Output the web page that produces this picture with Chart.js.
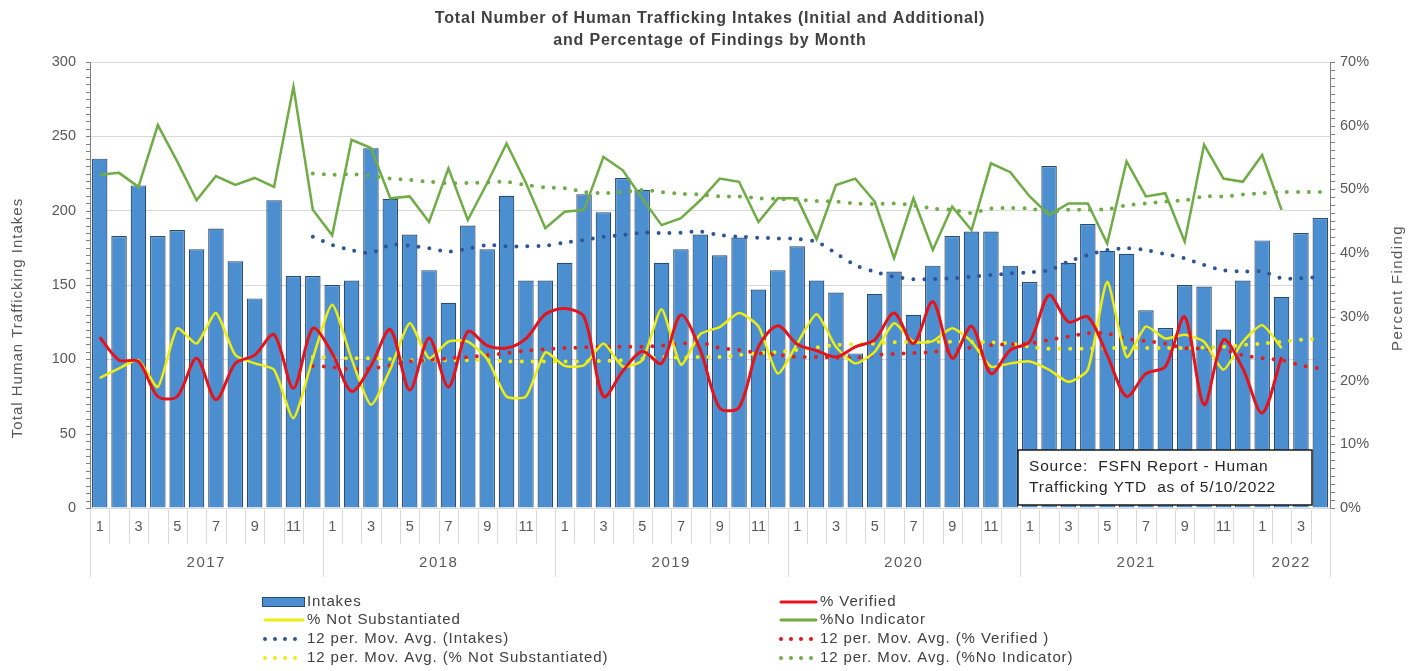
<!DOCTYPE html>
<html>
<head>
<meta charset="utf-8">
<title>Human Trafficking Intakes by Month</title>
<script src="https://cdn.jsdelivr.net/npm/chart.js@4.4.1/dist/chart.umd.min.js"></script>
<style>
  html, body { margin: 0; padding: 0; background: #fff; }
  #wrap { width: 1419px; height: 671px; }
</style>
</head>
<body>
<div id="wrap"><canvas id="htChart" width="1419" height="671"></canvas></div>
<script>
// Month axis, grouped by year
const years = ["2017", "2018", "2019", "2020", "2021", "2022"];
const monthsInYear = [12, 12, 12, 12, 12, 4];

// Total intakes per month (left axis)
const intakes = [
  235, 183, 217, 183, 187, 174, 188, 166, 141, 207, 156, 156,
  150, 153, 242, 208, 184, 160, 138, 190, 174, 210, 153, 153,
  165, 211, 199, 222, 214, 165, 174, 184, 170, 182, 147, 160,
  176, 153, 145, 104, 144, 159, 130, 163, 183, 186, 186, 163,
  152, 230, 165, 191, 173, 171, 133, 121, 150, 149, 120, 153,
  180, 142, 185, 195
];

// Findings in percent (right axis), reported through Feb 2022
const pctVerified = [
  26.8, 23.2, 23.0, 17.5, 17.5, 23.5, 17.0, 22.7, 24.0, 27.2, 18.8, 28.2,
  24.3, 18.3, 22.3, 28.0, 18.5, 26.7, 19.0, 27.7, 25.5, 25.1, 26.6, 30.4,
  31.3, 30.0, 17.5, 21.5, 24.6, 22.7, 30.3, 24.8, 15.7, 15.8, 25.3, 28.6,
  25.7, 24.7, 23.7, 25.3, 26.4, 30.6, 25.8, 32.4, 23.5, 28.5, 21.1, 24.8,
  26.1, 33.4, 29.2, 30.0, 24.0, 17.5, 21.1, 22.2, 30.0, 16.2, 26.4, 21.9,
  14.9, 23.7
];
const pctNotSubstantiated = [
  20.4, 21.9, 23.2, 19.0, 28.2, 25.8, 30.6, 24.0, 22.7, 21.7, 14.1, 23.5,
  31.9, 23.4, 16.2, 21.8, 29.0, 23.5, 26.1, 26.1, 23.4, 17.5, 17.5, 24.4,
  22.3, 22.4, 25.8, 22.2, 23.2, 31.2, 22.5, 27.3, 28.4, 30.6, 28.5, 21.1,
  25.8, 30.4, 25.3, 22.7, 24.5, 29.0, 26.1, 26.2, 28.2, 26.1, 22.2, 22.7,
  23.0, 21.7, 19.8, 21.7, 35.5, 23.7, 28.5, 26.6, 27.2, 26.1, 21.7, 26.1,
  28.7, 25.1
];
const pctNoIndicator = [
  52.3, 52.6, 50.4, 60.1, 54.4, 48.3, 52.1, 50.7, 51.8, 50.4, 66.1, 46.8,
  42.8, 57.8, 56.5, 48.6, 48.9, 44.9, 53.3, 45.2, 51.0, 57.2, 51.0, 43.9,
  46.5, 46.8, 55.1, 53.0, 48.6, 44.4, 45.5, 48.3, 51.7, 51.2, 44.9, 48.6,
  48.6, 42.2, 50.7, 51.7, 48.1, 39.2, 48.6, 40.5, 47.3, 43.6, 54.1, 52.7,
  48.9, 46.0, 47.8, 47.8, 41.5, 54.4, 48.9, 49.4, 41.8, 57.0, 51.7, 51.2,
  55.4, 46.8
];

// 12 period moving averages, first point at Dec 2017
const maIntakes = [
  182.5,
  177.0, 173.5, 171.6, 176.9, 176.5, 174.7, 172.4, 174.5, 176.9, 176.0, 176.0, 176.5,
  178.5, 180.3, 182.5, 183.6, 185.2, 185.0, 185.2, 185.9, 183.6, 182.5, 181.8, 181.3,
  181.0, 179.0, 171.3, 163.4, 159.0, 155.6, 153.8, 154.0, 154.5, 155.6, 156.7, 157.8,
  158.5, 160.0, 165.7, 170.2, 173.5, 174.7, 173.5, 170.8, 168.0, 163.4, 160.0, 159.0,
  159.0, 154.5, 154.5, 155.6
];
const maVerified = [
  22.3,
  22.1, 21.8, 21.9, 22.4, 23.0, 23.2, 23.5, 23.7, 24.0, 24.3, 24.7, 24.9,
  25.1, 25.2, 25.3, 25.3, 25.3, 25.5, 25.8, 26.0, 25.1, 24.8, 24.3, 24.0,
  23.7, 23.7, 23.6, 23.6, 24.0, 24.2, 24.3, 24.5, 24.8, 25.2, 25.6, 25.7,
  25.8, 26.4, 26.9, 27.4, 27.4, 26.6, 26.2, 25.8, 25.1, 25.0, 24.8, 24.0,
  23.5, 23.2, 22.4, 21.9
];
const maNotSubstantiated = [
  23.7,
  23.6, 23.5, 23.5, 23.4, 23.2, 23.2, 23.2, 23.2, 23.2, 23.0, 23.0, 23.0,
  23.0, 23.0, 23.1, 23.2, 23.4, 23.7, 23.6, 23.7, 23.7, 24.0, 24.3, 24.5,
  24.8, 25.2, 25.6, 25.7, 25.8, 26.0, 26.1, 26.1, 26.1, 26.1, 26.0, 25.8,
  25.3, 25.0, 25.0, 25.0, 25.1, 25.1, 25.1, 25.1, 25.1, 25.2, 25.3, 25.6,
  25.8, 26.1, 26.4, 26.6
];
const maNoIndicator = [
  52.5,
  52.3, 52.4, 52.1, 51.7, 51.5, 51.2, 51.0, 51.0, 51.1, 51.2, 50.7, 50.3,
  50.2, 49.6, 49.4, 49.6, 49.9, 49.6, 49.3, 49.2, 48.9, 48.9, 48.6, 48.5,
  48.4, 48.2, 48.1, 47.8, 47.7, 47.8, 47.5, 47.0, 46.8, 46.3, 47.0, 47.1,
  47.0, 46.5, 46.8, 46.8, 46.9, 47.5, 47.8, 48.1, 48.3, 48.9, 48.9, 49.2,
  49.4, 49.6, 49.6, 49.6
];

// Axis ticks
const intakeTicks = [0, 50, 100, 150, 200, 250, 300];
const percentTicks = [0, 10, 20, 30, 40, 50, 60, 70];

const FONT = "'Liberation Sans', Arial, sans-serif";
const TEXT = "#595959";

// category keys like "2017-1"
const categories = [];
years.forEach((yr, k) => {
  for (let m = 1; m <= monthsInYear[k]; m++) categories.push(yr + "-" + m);
});
const maLead = Array(11).fill(null);

const BLUE = "#4b8fd1", RED = "#e3141b", YELLOW = "#eded12", GREEN = "#6fac45", NAVY = "#2f5597";

function dotted(label, data, color, axis) {
  return {
    type: "line", label, data: maLead.concat(data), yAxisID: axis,
    borderColor: color, borderWidth: 4, borderDash: [0, 11], borderCapStyle: "round",
    pointRadius: 0, fill: false, tension: 0.3, order: 2
  };
}

// Legend rows: [text, kind, color, column, row]
const legendItems = [
  ["Intakes", "bar", BLUE, 0, 0],
  ["% Not Substantiated", "line", YELLOW, 0, 1],
  ["12 per. Mov. Avg. (Intakes)", "dots", NAVY, 0, 2],
  ["12 per. Mov. Avg. (% Not Substantiated)", "dots", YELLOW, 0, 3],
  ["% Verified", "line", RED, 1, 0],
  ["%No Indicator", "line", GREEN, 1, 1],
  ["12 per. Mov. Avg. (% Verified )", "dots", RED, 1, 2],
  ["12 per. Mov. Avg. (%No Indicator)", "dots", GREEN, 1, 3]
];

const decorations = {
  id: "decorations",
  beforeDraw(chart) {
    const ctx = chart.ctx;
    ctx.save();
    ctx.fillStyle = "#fff";
    ctx.fillRect(0, 0, chart.width, chart.height);
    ctx.restore();
  },
  afterDatasetsDraw(chart) {
    // source note box in lower right of the plot
    const ctx = chart.ctx, a = chart.chartArea;
    const w = 294, h = 55, x = a.right - 18 - w, y = a.bottom - 3 - h;
    ctx.save();
    ctx.fillStyle = "#fff";
    ctx.fillRect(x, y, w, h);
    ctx.strokeStyle = "#1a1a1a";
    ctx.lineWidth = 1.5;
    ctx.strokeRect(x, y, w, h);
    ctx.fillStyle = "#262626";
    ctx.font = "15.5px " + FONT;
    ctx.letterSpacing = "0.8px";
    ctx.textBaseline = "middle";
    ctx.fillText("Source:  FSFN Report - Human", x + 11, y + 17);
    ctx.fillText("Trafficking YTD  as of 5/10/2022", x + 11, y + 38);
    ctx.restore();
  },
  afterDraw(chart) {
    const ctx = chart.ctx, a = chart.chartArea;
    const xs = chart.scales.x, yL = chart.scales.y, yR = chart.scales.y1;
    ctx.save();

    // title
    ctx.fillStyle = "#404040";
    ctx.font = "bold 16px " + FONT;
    ctx.letterSpacing = "0.8px";
    ctx.textAlign = "center";
    ctx.textBaseline = "middle";
    const mid = (a.left + a.right) / 2;
    ctx.fillText("Total Number of Human Trafficking Intakes (Initial and Additional)", mid, 19);
    ctx.fillText("and Percentage of Findings by Month", mid, 41);

    // axis titles
    ctx.fillStyle = TEXT;
    ctx.font = "15px " + FONT;
    ctx.letterSpacing = "1px";
    ctx.save();
    ctx.translate(18, 318);
    ctx.rotate(-Math.PI / 2);
    ctx.fillText("Total Human Trafficking Intakes", 0, 0);
    ctx.restore();
    ctx.save();
    ctx.letterSpacing = "1.4px";
    ctx.translate(1398, 288);
    ctx.rotate(-Math.PI / 2);
    ctx.fillText("Percent Finding", 0, 0);
    ctx.restore();

    // minor tick marks on both value axes
    ctx.strokeStyle = "#7f7f7f";
    ctx.lineWidth = 1;
    ctx.beginPath();
    for (let v = yL.min; v <= yL.max; v += 5) {
      const py = Math.round(yL.getPixelForValue(v)) + 0.5;
      ctx.moveTo(a.left - 4, py); ctx.lineTo(a.left, py);
    }
    for (let v = yR.min; v <= yR.max + 0.01; v += 1.25) {
      const py = Math.round(yR.getPixelForValue(v)) + 0.5;
      ctx.moveTo(a.right, py); ctx.lineTo(a.right + 5, py);
    }
    ctx.stroke();

    // category separators and year labels
    const step = xs.getPixelForValue(1) - xs.getPixelForValue(0);
    const edge = k => xs.getPixelForValue(Math.min(k, categories.length - 1)) + (k < categories.length ? -step / 2 : step / 2);
    const yearStarts = [0];
    monthsInYear.forEach((n, k) => yearStarts.push(yearStarts[k] + n));
    ctx.strokeStyle = "#d9d9d9";
    ctx.beginPath();
    for (let k = 0; k <= categories.length; k++) {
      const px = Math.round(edge(k)) + 0.5;
      const long = yearStarts.includes(k);
      ctx.moveTo(px, a.bottom + 2);
      ctx.lineTo(px, a.bottom + (long ? 69 : 36));
    }
    ctx.stroke();
    ctx.fillStyle = TEXT;
    ctx.font = "15px " + FONT;
    ctx.letterSpacing = "1.5px";
    years.forEach((yr, k) => {
      const cx = (edge(yearStarts[k]) + edge(yearStarts[k + 1])) / 2;
      ctx.fillText(yr, cx, a.bottom + 55);
    });

    // legend, two columns
    const colX = [262, 778], rowY = [602, 620, 639, 658];
    ctx.textAlign = "left";
    ctx.font = "15px " + FONT;
    ctx.letterSpacing = "0.9px";
    legendItems.forEach(([text, kind, color, col, row]) => {
      const x0 = colX[col], yy = rowY[row];
      const x1 = x0 + (col ? 40 : 43);
      if (kind === "bar") {
        ctx.fillStyle = color;
        ctx.fillRect(x0, yy - 5, x1 - x0, 10);
        ctx.strokeStyle = "#2a4a70";
        ctx.lineWidth = 1;
        ctx.strokeRect(x0 + 0.5, yy - 4.5, x1 - x0 - 1, 9);
      } else {
        ctx.strokeStyle = color;
        ctx.lineCap = "round";
        ctx.lineWidth = kind === "dots" ? 4 : 3;
        ctx.setLineDash(kind === "dots" ? [0, 10] : []);
        ctx.beginPath();
        ctx.moveTo(x0 + 3, yy); ctx.lineTo(x1 - 2, yy);
        ctx.stroke();
        ctx.setLineDash([]);
      }
      ctx.fillStyle = "#404040";
      ctx.fillText(text, x1 + 2, yy);
    });
    ctx.restore();
  }
};

new Chart(document.getElementById("htChart"), {
  data: {
    labels: categories,
    datasets: [
      { type: "line", label: "% Verified", data: pctVerified, yAxisID: "y1",
        borderColor: RED, borderWidth: 3, pointRadius: 0, tension: 0.3, order: 1 },
      { type: "line", label: "% Not Substantiated", data: pctNotSubstantiated, yAxisID: "y1",
        borderColor: YELLOW, borderWidth: 2.5, pointRadius: 0, tension: 0.2, order: 1 },
      { type: "line", label: "%No Indicator", data: pctNoIndicator, yAxisID: "y1",
        borderColor: GREEN, borderWidth: 2.5, pointRadius: 0, tension: 0, order: 1 },
      dotted("12 per. Mov. Avg. (Intakes)", maIntakes, NAVY, "y"),
      dotted("12 per. Mov. Avg. (% Verified )", maVerified, "#e0201e", "y1"),
      dotted("12 per. Mov. Avg. (% Not Substantiated)", maNotSubstantiated, YELLOW, "y1"),
      dotted("12 per. Mov. Avg. (%No Indicator)", maNoIndicator, GREEN, "y1"),
      { type: "bar", label: "Intakes", data: intakes, yAxisID: "y",
        backgroundColor: BLUE, borderColor: "#2a4a70", borderWidth: 1.2,
        barPercentage: 0.8, categoryPercentage: 1, order: 9 }
    ]
  },
  options: {
    responsive: false,
    animation: false,
    layout: { padding: { top: 62, left: 0, right: 0, bottom: 0 } },
    plugins: { legend: { display: false }, tooltip: { enabled: false } },
    scales: {
      x: {
        offset: true,
        grid: { display: false, drawTicks: false },
        border: { display: true, color: "#d9d9d9" },
        ticks: {
          autoSkip: false, maxRotation: 0, padding: 10,
          color: TEXT, font: { family: FONT, size: 14.5 },
          callback(v) {
            const m = +categories[v].split("-")[1];
            return m % 2 === 1 ? String(m) : "";
          }
        },
        afterFit(scale) { scale.height = 163; }
      },
      y: {
        position: "left",
        min: intakeTicks[0], max: intakeTicks[intakeTicks.length - 1],
        grid: { color: "#d9d9d9", drawTicks: false },
        border: { display: true, color: "#7f7f7f" },
        ticks: { stepSize: intakeTicks[1] - intakeTicks[0], padding: 14,
          color: TEXT, font: { family: FONT, size: 14.5 } },
        afterFit(scale) { scale.width = 90; }
      },
      y1: {
        position: "right",
        min: percentTicks[0], max: percentTicks[percentTicks.length - 1],
        grid: { drawOnChartArea: false, drawTicks: false },
        border: { display: true, color: "#7f7f7f" },
        ticks: { stepSize: percentTicks[1] - percentTicks[0], padding: 10,
          color: TEXT, font: { family: FONT, size: 14.5 },
          callback: v => v + "%" },
        afterFit(scale) { scale.width = 89; }
      }
    }
  },
  plugins: [decorations]
});
</script>
</body>
</html>
